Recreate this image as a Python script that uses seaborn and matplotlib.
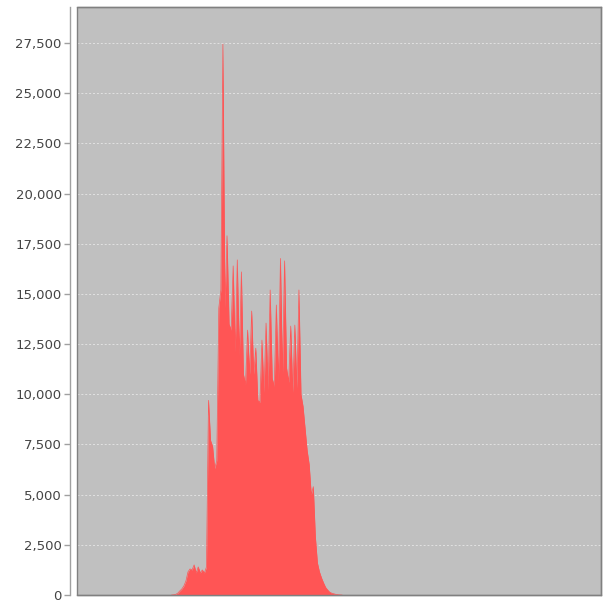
import numpy as np
import pandas as pd
import matplotlib
matplotlib.use("Agg")
import matplotlib.pyplot as plt
from matplotlib.patches import Rectangle
from matplotlib.ticker import FuncFormatter
import seaborn as sns

# ---- data: histogram counts per bin (0..255) ----
first_bin = 46
counts_nonzero = [
    0, 10, 30, 90, 200, 300, 450, 700, 1150, 1300,        # 46-55
    1250, 1500, 1100, 1400, 1100, 1250, 1100, 1400, 9700, 7700,  # 56-65
    7400, 6300, 6700, 14300, 15200, 27450, 14300, 17900, 13500, 13200,  # 66-75
    16400, 12100, 16700, 11900, 16100, 11000, 10500, 13200, 11000, 14150,  # 76-85
    11000, 12300, 9700, 9600, 12700, 10100, 13550, 10200, 15200, 10800,  # 86-95
    10400, 14450, 10600, 16770, 11000, 16650, 11300, 10600, 13400, 10100,  # 96-105
    13450, 10300, 15200, 10000, 9400, 8300, 7200, 6500, 5000, 5400,  # 106-115
    2900, 1600, 1150, 850, 600, 380, 250, 140, 90, 60,  # 116-125
    30, 15, 5, 0,  # 126-129
]
n_bins = 256
bin_index = list(range(n_bins))
counts = [0] * n_bins
for i, v in enumerate(counts_nonzero):
    counts[first_bin + i] = v

y_ticks = list(range(0, 27501, 2500))

df = pd.DataFrame({"bin": bin_index, "count": counts})
df_nz = df.iloc[first_bin:first_bin + len(counts_nonzero)]

# ---- figure ----
sns.set_style("white")
plt.rcParams["font.family"] = ["DejaVu Sans"]

fig = plt.figure(figsize=(6.03, 6.00), dpi=100)
ax = fig.add_axes([77 / 603, 1 - 595 / 600, (601 - 77) / 603, (595 - 7) / 600])
ax.set_facecolor("#C0C0C0")

sns.lineplot(data=df_nz, x="bin", y="count", color="#FF5555", linewidth=0.5,
             ax=ax, zorder=3)
ax.fill_between(df["bin"], 0, df["count"], color="#FF5555", linewidth=0, zorder=3)

ax.set_xlim(0, 255)
ax.set_ylim(0, 29300)
ax.set_yticks(y_ticks)
ax.yaxis.set_major_formatter(FuncFormatter(lambda v, p: f"{int(v):,}"))
ax.set_xticks([])
ax.set_xlabel("")
ax.set_ylabel("")

ax.grid(axis="y", color="#E2E2E2", linestyle=(0, (2, 2)), linewidth=0.7, zorder=1)
ax.set_axisbelow(True)

for s in ["top", "right", "bottom"]:
    ax.spines[s].set_visible(True)
    ax.spines[s].set_color("#808080")
    ax.spines[s].set_linewidth(1.0)
ax.spines["left"].set_position(("outward", 5))
ax.spines["left"].set_color("#A0A0A0")
ax.spines["left"].set_linewidth(1.0)

ax.add_patch(Rectangle((0, 0), 1, 1, transform=ax.transAxes, fill=False,
                       edgecolor="#808080", linewidth=1.0, zorder=5, clip_on=False))

ax.tick_params(axis="y", which="major", length=4, width=1, color="#A0A0A0",
               labelsize=9.5, labelcolor="#444444", pad=2, left=True)

fig.savefig("out.png", dpi=100, facecolor="white")
